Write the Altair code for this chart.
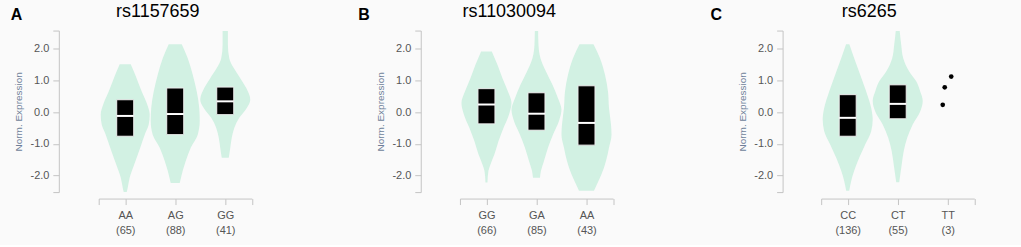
import altair as alt
import pandas as pd

FONT = "Liberation Sans"
MINT = "#d2f1e3"
AXIS_GREY = "#c4c4c4"
LABEL_GREY = "#555555"
TITLE_BLUE = "#6e7f99"

Y_DOMAIN = [-2.52, 2.57]
Y_TICKS = [-2, -1, 0, 1, 2]

# ---------------- Panel A ----------------
A_LETTER = "A"
A_TITLE = "rs1157659"
A_GENOTYPES = ["AA", "AG", "GG"]
A_COUNTS = [65, 88, 41]
A_Q1 = [-0.76, -0.71, -0.08]
A_MED = [-0.12, -0.06, 0.34]
A_Q3 = [0.39, 0.76, 0.79]
A_AA_Y = [1.51, 1.18, 0.65, 0.24, -0.08, -0.39, -0.71, -1.12, -1.65, -2.06, -2.38, -2.52]
A_AA_W = [0.11, 0.20, 0.33, 0.44, 0.49, 0.47, 0.39, 0.30, 0.18, 0.09, 0.05, 0.03]
A_AG_Y = [2.14, 1.70, 1.18, 0.65, 0.13, -0.28, -0.71, -1.12, -1.54, -1.85, -2.17, -2.23]
A_AG_W = [0.13, 0.25, 0.35, 0.43, 0.48, 0.49, 0.45, 0.31, 0.21, 0.15, 0.10, 0.09]
A_GG_Y = [2.56, 2.12, 1.70, 1.39, 1.07, 0.76, 0.39, 0.13, -0.18, -0.50, -0.81, -1.13, -1.44]
A_GG_W = [0.053, 0.053, 0.08, 0.17, 0.30, 0.42, 0.50, 0.43, 0.28, 0.18, 0.13, 0.10, 0.07]

# ---------------- Panel B ----------------
B_LETTER = "B"
B_TITLE = "rs11030094"
B_GENOTYPES = ["GG", "GA", "AA"]
B_COUNTS = [66, 85, 43]
B_Q1 = [-0.37, -0.57, -1.04]
B_MED = [0.24, -0.05, -0.34]
B_Q3 = [0.74, 0.61, 0.83]
B_GG_Y = [1.91, 1.49, 1.07, 0.65, 0.29, -0.08, -0.50, -0.92, -1.33, -1.65, -1.85, -2.22]
B_GG_W = [0.107, 0.22, 0.32, 0.43, 0.50, 0.45, 0.34, 0.24, 0.16, 0.08, 0.04, 0.02]
B_GA_Y = [2.56, 2.12, 1.70, 1.28, 0.86, 0.44, 0.08, -0.28, -0.71, -1.12, -1.54, -1.85, -2.07]
B_GA_W = [0.033, 0.04, 0.08, 0.19, 0.32, 0.43, 0.50, 0.45, 0.33, 0.23, 0.15, 0.09, 0.07]
B_AA_Y = [2.14, 1.70, 1.18, 0.65, 0.13, -0.39, -0.71, -1.12, -1.54, -1.96, -2.27, -2.48]
B_AA_W = [0.14, 0.27, 0.37, 0.43, 0.45, 0.49, 0.50, 0.45, 0.39, 0.30, 0.21, 0.15]

# ---------------- Panel C ----------------
C_LETTER = "C"
C_TITLE = "rs6265"
C_GENOTYPES = ["CC", "CT", "TT"]
C_COUNTS = [136, 55, 3]
C_Q1 = [-0.76, -0.21]
C_MED = [-0.18, 0.26]
C_Q3 = [0.55, 0.86]
C_CC_Y = [2.14, 1.70, 1.18, 0.65, 0.13, -0.23, -0.60, -1.02, -1.44, -1.85, -2.17, -2.48]
C_CC_W = [0.033, 0.13, 0.25, 0.37, 0.47, 0.50, 0.47, 0.35, 0.23, 0.13, 0.07, 0.03]
C_CT_Y = [2.56, 2.12, 1.70, 1.28, 0.97, 0.65, 0.36, 0.02, -0.39, -0.81, -1.23, -1.65, -2.21]
C_CT_W = [0.04, 0.07, 0.11, 0.23, 0.37, 0.45, 0.50, 0.45, 0.30, 0.19, 0.12, 0.08, 0.03]
C_TT_Y = [1.12, 0.78, 0.23]
C_TT_JITTER = [0.07, -0.06, -0.10]

PLOT_W = 153.5
PLOT_H = 162
BOX_HALF = 0.17
X_PAD = 0.53


def make_panel(letter, title, genotypes, counts, violins, q1, med, q3,
               points=None, y_offset=40, letter_dx=-88.3, title_dx=-17.5):
    n = len(genotypes)
    xscale = alt.Scale(domain=[-X_PAD, n - 1 + X_PAD], nice=False, zero=False)
    yscale = alt.Scale(domain=Y_DOMAIN, nice=False, zero=False)

    labels_js = "[" + ",".join(f"['{g}','({c})']" for g, c in zip(genotypes, counts)) + "]"
    xaxis = alt.Axis(
        values=[-X_PAD] + list(range(n)) + [n - 1 + X_PAD],
        labelExpr=(f"(datum.value == round(datum.value) && datum.value >= 0 && datum.value <= {n-1})"
                   f" ? {labels_js}[round(datum.value)] : ''"),
        title=None, grid=False, offset=6.5, tickSize=6, labelPadding=5,
        labelLineHeight=15.3, labelFont=FONT, labelFontSize=11, labelColor=LABEL_GREY,
        domainColor=AXIS_GREY, tickColor=AXIS_GREY, labelFlush=False, labelOverlap=False,
        labelAngle=0,
    )
    yaxis = alt.Axis(
        values=[Y_DOMAIN[0]] + Y_TICKS + [Y_DOMAIN[1]],
        labelExpr="abs(datum.value) > 2.3 ? '' : (datum.value < 0 ? '-' : '') + format(abs(datum.value), '.1f')",
        title="Norm. Expression", titleFont=FONT, titleFontSize=10, titleFontWeight="normal",
        titleColor=TITLE_BLUE, titleX=-40, titleY=PLOT_H / 2, titleBaseline="middle",
        titleAlign="center", titleAngle=270,
        grid=False, offset=y_offset, tickSize=6, labelPadding=4,
        labelFont=FONT, labelFontSize=11, labelColor=LABEL_GREY,
        domainColor=AXIS_GREY, tickColor=AXIS_GREY, labelOverlap=False,
    )

    vrows = []
    for i, (ys, ws) in enumerate(violins):
        for yv, wv in zip(ys, ws):
            vrows.append({"g": genotypes[i], "y": yv, "x_lo": i - wv, "x_hi": i + wv})
    vdf = pd.DataFrame(vrows)

    bdf = pd.DataFrame({
        "g": genotypes[:len(q1)],
        "bx_lo": [i - BOX_HALF for i in range(len(q1))],
        "bx_hi": [i + BOX_HALF for i in range(len(q1))],
        "q1": q1, "med": med, "q3": q3,
    })

    violin = alt.Chart(vdf).mark_area(
        orient="horizontal", interpolate="monotone", color=MINT, opacity=1
    ).encode(
        y=alt.Y("y:Q", scale=yscale, axis=yaxis),
        x=alt.X("x_lo:Q", scale=xscale, axis=xaxis),
        x2="x_hi:Q",
        detail="g:N",
    )
    box = alt.Chart(bdf).mark_rect(fill="black", stroke="#eeeeee", strokeWidth=1).encode(
        x=alt.X("bx_lo:Q", scale=xscale, axis=xaxis),
        x2="bx_hi:Q",
        y=alt.Y("q1:Q", scale=yscale, axis=yaxis),
        y2="q3:Q",
    )
    median = alt.Chart(bdf).mark_rule(color="white", strokeWidth=2).encode(
        x=alt.X("bx_lo:Q", scale=xscale, axis=xaxis),
        x2="bx_hi:Q",
        y=alt.Y("med:Q", scale=yscale, axis=yaxis),
    )
    layers = [violin, box, median]
    if points is not None:
        pidx, pys, pjit = points
        pdf = pd.DataFrame({"x": [pidx + j for j in pjit], "y": pys})
        layers.append(
            alt.Chart(pdf).mark_circle(color="black", opacity=1, size=22).encode(
                x=alt.X("x:Q", scale=xscale, axis=xaxis),
                y=alt.Y("y:Q", scale=yscale, axis=yaxis),
            )
        )
    letter_mark = alt.Chart(pd.DataFrame({"t": [letter]})).mark_text(
        align="left", baseline="alphabetic", font=FONT, fontSize=16, fontWeight="bold", color="black"
    ).encode(text="t:N", x=alt.value(letter_dx), y=alt.value(-10.7))
    title_mark = alt.Chart(pd.DataFrame({"t": [title]})).mark_text(
        align="center", baseline="alphabetic", font=FONT, fontSize=18, color="black"
    ).encode(text="t:N", x=alt.value(PLOT_W / 2 + title_dx), y=alt.value(-14))
    layers += [letter_mark, title_mark]
    return alt.layer(*layers).properties(width=PLOT_W, height=PLOT_H)


panel_a = make_panel(A_LETTER, A_TITLE, A_GENOTYPES, A_COUNTS,
                     [(A_AA_Y, A_AA_W), (A_AG_Y, A_AG_W), (A_GG_Y, A_GG_W)],
                     A_Q1, A_MED, A_Q3, y_offset=40, letter_dx=-88.3, title_dx=-17.5)
panel_b = make_panel(B_LETTER, B_TITLE, B_GENOTYPES, B_COUNTS,
                     [(B_GG_Y, B_GG_W), (B_GA_Y, B_GA_W), (B_AA_Y, B_AA_W)],
                     B_Q1, B_MED, B_Q3, y_offset=39.3, letter_dx=-102, title_dx=-27.3)
panel_c = make_panel(C_LETTER, C_TITLE, C_GENOTYPES, C_COUNTS,
                     [(C_CC_Y, C_CC_W), (C_CT_Y, C_CT_W)],
                     C_Q1, C_MED, C_Q3, points=(2, C_TT_Y, C_TT_JITTER),
                     y_offset=38.7, letter_dx=-111, title_dx=-28.5)

chart = alt.hconcat(panel_a, panel_b, panel_c, spacing=208.3, bounds="flush").configure_view(
    stroke=None
).properties(
    background="#fafafa",
    padding={"left": 10, "top": 2.3, "right": 45, "bottom": 9},
)

chart.save("out.html", embed_options={"renderer": "svg", "actions": False})
